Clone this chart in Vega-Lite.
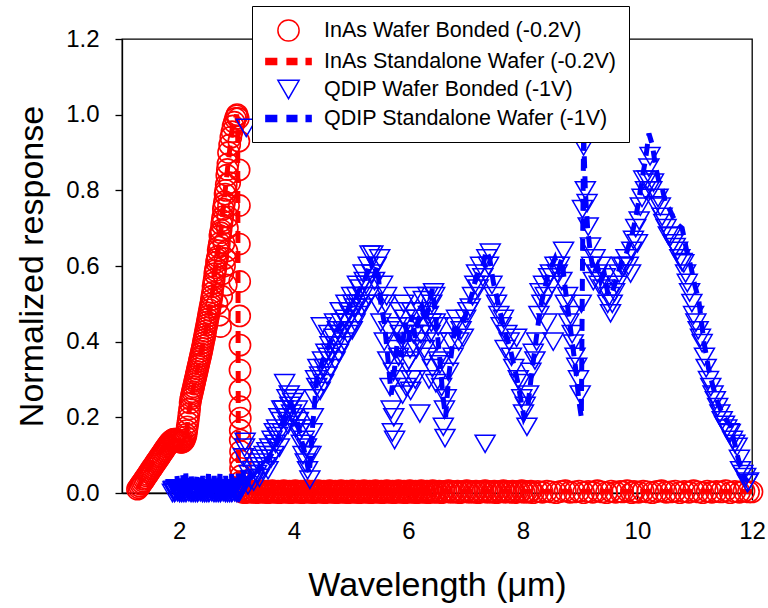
{
  "$schema": "https://vega.github.io/schema/vega-lite/v6.json",
  "width": 630,
  "height": 454,
  "autosize": {"type": "none"},
  "padding": {"left": 122, "top": 39, "right": 16, "bottom": 115},
  "background": "white",
  "config": {
    "font": "Liberation Sans",
    "view": {"stroke": "#000", "strokeWidth": 1.3},
    "axis": {
      "grid": false,
      "domainColor": "#000",
      "domainWidth": 1.3,
      "tickColor": "#000",
      "tickWidth": 1.3,
      "tickSize": 7,
      "labelColor": "#000",
      "titleColor": "#000",
      "labelFontSize": 24,
      "titleFontSize": 34,
      "titleFontWeight": "normal",
      "labelFont": "Liberation Sans",
      "titleFont": "Liberation Sans"
    }
  },
  "datasets": {
    "A": [
      {"s":"A","x":1.27,"y":0.010},{"s":"A","x":1.29,"y":0.014},{"s":"A","x":1.31,"y":0.018},{"s":"A","x":1.33,"y":0.023},{"s":"A","x":1.35,"y":0.027},{"s":"A","x":1.37,"y":0.031},{"s":"A","x":1.39,"y":0.036},{"s":"A","x":1.41,"y":0.040},{"s":"A","x":1.43,"y":0.045},{"s":"A","x":1.45,"y":0.049},{"s":"A","x":1.47,"y":0.054},{"s":"A","x":1.49,"y":0.058},{"s":"A","x":1.51,"y":0.063},{"s":"A","x":1.53,"y":0.067},{"s":"A","x":1.55,"y":0.072},{"s":"A","x":1.57,"y":0.076},{"s":"A","x":1.59,"y":0.081},{"s":"A","x":1.61,"y":0.085},{"s":"A","x":1.63,"y":0.089},{"s":"A","x":1.65,"y":0.094},{"s":"A","x":1.67,"y":0.098},{"s":"A","x":1.69,"y":0.103},{"s":"A","x":1.71,"y":0.107},{"s":"A","x":1.73,"y":0.112},{"s":"A","x":1.75,"y":0.116},{"s":"A","x":1.77,"y":0.121},{"s":"A","x":1.79,"y":0.125},{"s":"A","x":1.81,"y":0.129},{"s":"A","x":1.83,"y":0.133},{"s":"A","x":1.85,"y":0.136},{"s":"A","x":1.87,"y":0.139},{"s":"A","x":1.89,"y":0.141},{"s":"A","x":1.91,"y":0.142},{"s":"A","x":1.93,"y":0.142},{"s":"A","x":1.95,"y":0.141},{"s":"A","x":1.97,"y":0.139},{"s":"A","x":1.99,"y":0.137},{"s":"A","x":2.01,"y":0.135},{"s":"A","x":2.03,"y":0.134},{"s":"A","x":2.05,"y":0.134},{"s":"A","x":2.07,"y":0.136},{"s":"A","x":2.09,"y":0.140},{"s":"A","x":2.11,"y":0.148},
      {"s":"A","x":2.12,"y":0.155},{"s":"A","x":2.13,"y":0.165},{"s":"A","x":2.14,"y":0.175},{"s":"A","x":2.15,"y":0.186},{"s":"A","x":2.16,"y":0.197},{"s":"A","x":2.17,"y":0.209},{"s":"A","x":2.18,"y":0.222},{"s":"A","x":2.19,"y":0.238},{"s":"A","x":2.20,"y":0.248},{"s":"A","x":2.21,"y":0.255},{"s":"A","x":2.22,"y":0.262},{"s":"A","x":2.23,"y":0.268},{"s":"A","x":2.24,"y":0.275},{"s":"A","x":2.25,"y":0.281},{"s":"A","x":2.26,"y":0.288},{"s":"A","x":2.27,"y":0.295},{"s":"A","x":2.28,"y":0.301},{"s":"A","x":2.29,"y":0.308},{"s":"A","x":2.30,"y":0.315},{"s":"A","x":2.31,"y":0.321},{"s":"A","x":2.32,"y":0.328},{"s":"A","x":2.33,"y":0.335},{"s":"A","x":2.34,"y":0.341},{"s":"A","x":2.35,"y":0.348},{"s":"A","x":2.36,"y":0.355},{"s":"A","x":2.37,"y":0.361},{"s":"A","x":2.38,"y":0.368},{"s":"A","x":2.39,"y":0.375},{"s":"A","x":2.40,"y":0.382},{"s":"A","x":2.41,"y":0.389},{"s":"A","x":2.42,"y":0.397},{"s":"A","x":2.43,"y":0.405},{"s":"A","x":2.44,"y":0.412},{"s":"A","x":2.45,"y":0.420},{"s":"A","x":2.46,"y":0.428},{"s":"A","x":2.47,"y":0.436},{"s":"A","x":2.48,"y":0.444},{"s":"A","x":2.49,"y":0.452},{"s":"A","x":2.50,"y":0.460},{"s":"A","x":2.51,"y":0.468},{"s":"A","x":2.52,"y":0.476},{"s":"A","x":2.53,"y":0.484},{"s":"A","x":2.54,"y":0.492},{"s":"A","x":2.55,"y":0.500},{"s":"A","x":2.56,"y":0.510},
      {"s":"A","x":2.57,"y":0.520},{"s":"A","x":2.58,"y":0.530},{"s":"A","x":2.59,"y":0.545},{"s":"A","x":2.60,"y":0.555},{"s":"A","x":2.61,"y":0.565},{"s":"A","x":2.62,"y":0.580},{"s":"A","x":2.63,"y":0.588},{"s":"A","x":2.64,"y":0.595},{"s":"A","x":2.65,"y":0.610},{"s":"A","x":2.66,"y":0.618},{"s":"A","x":2.67,"y":0.625},{"s":"A","x":2.68,"y":0.640},{"s":"A","x":2.69,"y":0.650},{"s":"A","x":2.70,"y":0.660},{"s":"A","x":2.71,"y":0.680},{"s":"A","x":2.72,"y":0.688},{"s":"A","x":2.73,"y":0.695},{"s":"A","x":2.74,"y":0.710},{"s":"A","x":2.75,"y":0.720},{"s":"A","x":2.76,"y":0.730},{"s":"A","x":2.77,"y":0.750},{"s":"A","x":2.78,"y":0.760},{"s":"A","x":2.79,"y":0.770},{"s":"A","x":2.80,"y":0.790},{"s":"A","x":2.81,"y":0.800},{"s":"A","x":2.82,"y":0.815},{"s":"A","x":2.83,"y":0.840},{"s":"A","x":2.84,"y":0.855},{"s":"A","x":2.85,"y":0.870},{"s":"A","x":2.86,"y":0.900},{"s":"A","x":2.88,"y":0.920},{"s":"A","x":2.90,"y":0.940},{"s":"A","x":2.92,"y":0.955},{"s":"A","x":2.94,"y":0.970},{"s":"A","x":2.96,"y":0.980},{"s":"A","x":2.98,"y":0.990},{"s":"A","x":3.00,"y":0.997},{"s":"A","x":3.01,"y":1.0},{"s":"A","x":3.03,"y":0.99},
      {"s":"A","x":2.70,"y":0.47},{"s":"A","x":2.74,"y":0.52},{"s":"A","x":2.76,"y":0.58},{"s":"A","x":2.80,"y":0.62},{"s":"A","x":2.78,"y":0.66},{"s":"A","x":2.84,"y":0.70},{"s":"A","x":2.82,"y":0.55},{"s":"A","x":2.86,"y":0.76},{"s":"A","x":2.88,"y":0.82},{"s":"A","x":2.72,"y":0.44},{"s":"A","x":2.66,"y":0.50},{"s":"A","x":2.79,"y":0.60},{"s":"A","x":2.83,"y":0.64},{"s":"A","x":2.85,"y":0.73},
      {"s":"A","x":3.04,"y":0.93},{"s":"A","x":3.045,"y":0.854},{"s":"A","x":3.05,"y":0.76},{"s":"A","x":3.05,"y":0.658},{"s":"A","x":3.055,"y":0.559},{"s":"A","x":3.055,"y":0.468},{"s":"A","x":3.06,"y":0.391},{"s":"A","x":3.06,"y":0.325},{"s":"A","x":3.06,"y":0.272},{"s":"A","x":3.06,"y":0.228},{"s":"A","x":3.065,"y":0.198},{"s":"A","x":3.065,"y":0.166},{"s":"A","x":3.065,"y":0.14},{"s":"A","x":3.07,"y":0.11},{"s":"A","x":3.07,"y":0.085},{"s":"A","x":3.07,"y":0.065},{"s":"A","x":3.075,"y":0.045},{"s":"A","x":3.075,"y":0.03},{"s":"A","x":3.08,"y":0.018},{"s":"A","x":3.08,"y":0.01},
      {"s":"A","x":3.100,"y":0.002},{"s":"A","x":3.125,"y":0.005},{"s":"A","x":3.150,"y":0.001},{"s":"A","x":3.175,"y":0.004},{"s":"A","x":3.200,"y":0.003},{"s":"A","x":3.225,"y":0.006},{"s":"A","x":3.250,"y":0.002},{"s":"A","x":3.275,"y":0.004},
      {"s":"A","x":3.300,"y":0.002},{"s":"A","x":3.325,"y":0.005},{"s":"A","x":3.350,"y":0.001},{"s":"A","x":3.375,"y":0.004},{"s":"A","x":3.400,"y":0.003},{"s":"A","x":3.425,"y":0.006},{"s":"A","x":3.450,"y":0.002},{"s":"A","x":3.475,"y":0.004},
      {"s":"A","x":3.500,"y":0.002},{"s":"A","x":3.525,"y":0.005},{"s":"A","x":3.550,"y":0.001},{"s":"A","x":3.575,"y":0.004},{"s":"A","x":3.600,"y":0.003},{"s":"A","x":3.625,"y":0.006},{"s":"A","x":3.650,"y":0.002},{"s":"A","x":3.675,"y":0.004},
      {"s":"A","x":3.700,"y":0.002},{"s":"A","x":3.725,"y":0.005},{"s":"A","x":3.750,"y":0.001},{"s":"A","x":3.775,"y":0.004},{"s":"A","x":3.800,"y":0.003},{"s":"A","x":3.825,"y":0.006},{"s":"A","x":3.850,"y":0.002},{"s":"A","x":3.875,"y":0.004},
      {"s":"A","x":3.900,"y":0.002},{"s":"A","x":3.925,"y":0.005},{"s":"A","x":3.950,"y":0.001},{"s":"A","x":3.975,"y":0.004},{"s":"A","x":4.000,"y":0.003},{"s":"A","x":4.025,"y":0.006},{"s":"A","x":4.050,"y":0.002},{"s":"A","x":4.075,"y":0.004},
      {"s":"A","x":4.100,"y":0.002},{"s":"A","x":4.125,"y":0.005},{"s":"A","x":4.150,"y":0.001},{"s":"A","x":4.175,"y":0.004},{"s":"A","x":4.200,"y":0.003},{"s":"A","x":4.225,"y":0.006},{"s":"A","x":4.250,"y":0.002},{"s":"A","x":4.275,"y":0.004},
      {"s":"A","x":4.300,"y":0.002},{"s":"A","x":4.325,"y":0.005},{"s":"A","x":4.350,"y":0.001},{"s":"A","x":4.375,"y":0.004},{"s":"A","x":4.400,"y":0.003},{"s":"A","x":4.425,"y":0.006},{"s":"A","x":4.450,"y":0.002},{"s":"A","x":4.475,"y":0.004},
      {"s":"A","x":4.500,"y":0.002},{"s":"A","x":4.525,"y":0.005},{"s":"A","x":4.550,"y":0.001},{"s":"A","x":4.575,"y":0.004},{"s":"A","x":4.600,"y":0.003},{"s":"A","x":4.625,"y":0.006},{"s":"A","x":4.650,"y":0.002},{"s":"A","x":4.675,"y":0.004},
      {"s":"A","x":4.700,"y":0.002},{"s":"A","x":4.725,"y":0.005},{"s":"A","x":4.750,"y":0.001},{"s":"A","x":4.775,"y":0.004},{"s":"A","x":4.800,"y":0.003},{"s":"A","x":4.825,"y":0.006},{"s":"A","x":4.850,"y":0.002},{"s":"A","x":4.875,"y":0.004},
      {"s":"A","x":4.900,"y":0.002},{"s":"A","x":4.925,"y":0.005},{"s":"A","x":4.950,"y":0.001},{"s":"A","x":4.975,"y":0.004},{"s":"A","x":5.000,"y":0.003},{"s":"A","x":5.025,"y":0.006},{"s":"A","x":5.050,"y":0.002},{"s":"A","x":5.075,"y":0.004},
      {"s":"A","x":5.100,"y":0.002},{"s":"A","x":5.125,"y":0.005},{"s":"A","x":5.150,"y":0.001},{"s":"A","x":5.175,"y":0.004},{"s":"A","x":5.200,"y":0.003},{"s":"A","x":5.225,"y":0.006},{"s":"A","x":5.250,"y":0.002},{"s":"A","x":5.275,"y":0.004},
      {"s":"A","x":5.300,"y":0.002},{"s":"A","x":5.325,"y":0.005},{"s":"A","x":5.350,"y":0.001},{"s":"A","x":5.375,"y":0.004},{"s":"A","x":5.400,"y":0.003},{"s":"A","x":5.425,"y":0.006},{"s":"A","x":5.450,"y":0.002},{"s":"A","x":5.475,"y":0.004},
      {"s":"A","x":5.500,"y":0.002},{"s":"A","x":5.525,"y":0.005},{"s":"A","x":5.550,"y":0.001},{"s":"A","x":5.575,"y":0.004},{"s":"A","x":5.600,"y":0.003},{"s":"A","x":5.625,"y":0.006},{"s":"A","x":5.650,"y":0.002},{"s":"A","x":5.675,"y":0.004},
      {"s":"A","x":5.700,"y":0.002},{"s":"A","x":5.725,"y":0.005},{"s":"A","x":5.750,"y":0.001},{"s":"A","x":5.775,"y":0.004},{"s":"A","x":5.800,"y":0.003},{"s":"A","x":5.825,"y":0.006},{"s":"A","x":5.850,"y":0.002},{"s":"A","x":5.875,"y":0.004},
      {"s":"A","x":5.900,"y":0.002},{"s":"A","x":5.925,"y":0.005},{"s":"A","x":5.950,"y":0.001},{"s":"A","x":5.975,"y":0.004},{"s":"A","x":6.000,"y":0.003},{"s":"A","x":6.025,"y":0.006},{"s":"A","x":6.050,"y":0.002},{"s":"A","x":6.075,"y":0.004},
      {"s":"A","x":6.100,"y":0.002},{"s":"A","x":6.125,"y":0.005},{"s":"A","x":6.150,"y":0.001},{"s":"A","x":6.175,"y":0.004},{"s":"A","x":6.200,"y":0.003},{"s":"A","x":6.225,"y":0.006},{"s":"A","x":6.250,"y":0.002},{"s":"A","x":6.275,"y":0.004},
      {"s":"A","x":6.300,"y":0.002},{"s":"A","x":6.325,"y":0.005},{"s":"A","x":6.350,"y":0.001},{"s":"A","x":6.375,"y":0.004},{"s":"A","x":6.400,"y":0.003},{"s":"A","x":6.425,"y":0.006},{"s":"A","x":6.450,"y":0.002},{"s":"A","x":6.475,"y":0.004},
      {"s":"A","x":6.50,"y":0.002},{"s":"A","x":6.54,"y":0.005},{"s":"A","x":6.58,"y":0.001},{"s":"A","x":6.62,"y":0.004},{"s":"A","x":6.66,"y":0.003},{"s":"A","x":6.70,"y":0.006},{"s":"A","x":6.74,"y":0.002},{"s":"A","x":6.78,"y":0.004},{"s":"A","x":6.82,"y":0.002},{"s":"A","x":6.86,"y":0.005},{"s":"A","x":6.90,"y":0.001},{"s":"A","x":6.94,"y":0.004},{"s":"A","x":6.98,"y":0.003},{"s":"A","x":7.02,"y":0.006},{"s":"A","x":7.06,"y":0.002},{"s":"A","x":7.10,"y":0.004},{"s":"A","x":7.14,"y":0.002},{"s":"A","x":7.18,"y":0.005},{"s":"A","x":7.22,"y":0.001},{"s":"A","x":7.26,"y":0.004},{"s":"A","x":7.30,"y":0.003},{"s":"A","x":7.34,"y":0.006},{"s":"A","x":7.38,"y":0.002},{"s":"A","x":7.42,"y":0.004},{"s":"A","x":7.46,"y":0.002},{"s":"A","x":7.50,"y":0.005},{"s":"A","x":7.54,"y":0.001},{"s":"A","x":7.58,"y":0.004},{"s":"A","x":7.62,"y":0.003},{"s":"A","x":7.66,"y":0.006},{"s":"A","x":7.70,"y":0.002},{"s":"A","x":7.74,"y":0.004},{"s":"A","x":7.78,"y":0.002},{"s":"A","x":7.82,"y":0.005},{"s":"A","x":7.86,"y":0.001},{"s":"A","x":7.90,"y":0.004},{"s":"A","x":7.94,"y":0.003},{"s":"A","x":7.98,"y":0.006},{"s":"A","x":8.02,"y":0.002},{"s":"A","x":8.06,"y":0.004},{"s":"A","x":8.10,"y":0.002},{"s":"A","x":8.14,"y":0.005},{"s":"A","x":8.18,"y":0.001},
      {"s":"A","x":8.26,"y":0.004},{"s":"A","x":8.34,"y":0.002},{"s":"A","x":8.42,"y":0.005},{"s":"A","x":8.50,"y":0.003},{"s":"A","x":8.58,"y":0.001},{"s":"A","x":8.66,"y":0.004},{"s":"A","x":8.74,"y":0.006},{"s":"A","x":8.82,"y":0.002},{"s":"A","x":8.90,"y":0.003},{"s":"A","x":8.98,"y":0.005},{"s":"A","x":9.06,"y":0.001},{"s":"A","x":9.14,"y":0.004},{"s":"A","x":9.22,"y":0.002},{"s":"A","x":9.30,"y":0.006},{"s":"A","x":9.38,"y":0.003},{"s":"A","x":9.46,"y":0.001},{"s":"A","x":9.54,"y":0.005},{"s":"A","x":9.62,"y":0.002},{"s":"A","x":9.70,"y":0.004},{"s":"A","x":9.74,"y":0.003},{"s":"A","x":9.82,"y":0.006},{"s":"A","x":9.90,"y":0.001},{"s":"A","x":9.94,"y":0.004},{"s":"A","x":10.02,"y":0.002},{"s":"A","x":10.10,"y":0.005},{"s":"A","x":10.18,"y":0.003},{"s":"A","x":10.26,"y":0.001},{"s":"A","x":10.34,"y":0.004},{"s":"A","x":10.42,"y":0.006},{"s":"A","x":10.50,"y":0.002},{"s":"A","x":10.58,"y":0.003},{"s":"A","x":10.66,"y":0.005},{"s":"A","x":10.74,"y":0.001},{"s":"A","x":10.82,"y":0.004},{"s":"A","x":10.90,"y":0.002},{"s":"A","x":10.98,"y":0.006},{"s":"A","x":11.06,"y":0.003},{"s":"A","x":11.14,"y":0.001},{"s":"A","x":11.22,"y":0.005},{"s":"A","x":11.30,"y":0.002},{"s":"A","x":11.38,"y":0.004},{"s":"A","x":11.46,"y":0.003},{"s":"A","x":11.54,"y":0.006},{"s":"A","x":11.62,"y":0.001},{"s":"A","x":11.70,"y":0.004},{"s":"A","x":11.78,"y":0.002},{"s":"A","x":11.86,"y":0.005},{"s":"A","x":11.94,"y":0.003},{"s":"A","x":12.00,"y":0.003}
    ],
    "B": [
      {"s":"B","x":1.27,"y":0.01},{"s":"B","x":1.35,"y":0.035},{"s":"B","x":1.45,"y":0.06},{"s":"B","x":1.55,"y":0.085},{"s":"B","x":1.65,"y":0.105},{"s":"B","x":1.75,"y":0.125},{"s":"B","x":1.85,"y":0.138},{"s":"B","x":1.95,"y":0.14},{"s":"B","x":2.05,"y":0.135},{"s":"B","x":2.12,"y":0.155},{"s":"B","x":2.18,"y":0.225},{"s":"B","x":2.25,"y":0.28},{"s":"B","x":2.35,"y":0.35},{"s":"B","x":2.45,"y":0.42},{"s":"B","x":2.56,"y":0.51},{"s":"B","x":2.65,"y":0.61},{"s":"B","x":2.74,"y":0.71},{"s":"B","x":2.83,"y":0.84},{"s":"B","x":2.92,"y":0.96},{"s":"B","x":3.0,"y":1.0},{"s":"B","x":3.02,"y":0.98},{"s":"B","x":3.025,"y":0.6},{"s":"B","x":3.03,"y":0.2},{"s":"B","x":3.035,"y":0.01},{"s":"B","x":3.2,"y":0.005},{"s":"B","x":4.0,"y":0.004},{"s":"B","x":6.0,"y":0.005},{"s":"B","x":8.0,"y":0.004},{"s":"B","x":10.0,"y":0.004},{"s":"B","x":12.0,"y":0.004}
    ],
    "C": [
      {"s":"C","x":1.880,"y":0.0},{"s":"C","x":1.905,"y":0.008},{"s":"C","x":1.930,"y":0.003},{"s":"C","x":1.955,"y":0.012},{"s":"C","x":1.980,"y":0.005},{"s":"C","x":2.005,"y":0.0},{"s":"C","x":2.030,"y":0.01},{"s":"C","x":2.055,"y":0.004},
      {"s":"C","x":2.080,"y":0.0},{"s":"C","x":2.105,"y":0.008},{"s":"C","x":2.130,"y":0.003},{"s":"C","x":2.155,"y":0.012},{"s":"C","x":2.180,"y":0.005},{"s":"C","x":2.205,"y":0.0},{"s":"C","x":2.230,"y":0.01},{"s":"C","x":2.255,"y":0.004},
      {"s":"C","x":2.280,"y":0.0},{"s":"C","x":2.305,"y":0.008},{"s":"C","x":2.330,"y":0.003},{"s":"C","x":2.355,"y":0.012},{"s":"C","x":2.380,"y":0.005},{"s":"C","x":2.405,"y":0.0},{"s":"C","x":2.430,"y":0.01},{"s":"C","x":2.455,"y":0.004},
      {"s":"C","x":2.480,"y":0.0},{"s":"C","x":2.505,"y":0.008},{"s":"C","x":2.530,"y":0.003},{"s":"C","x":2.555,"y":0.012},{"s":"C","x":2.580,"y":0.005},{"s":"C","x":2.605,"y":0.0},{"s":"C","x":2.630,"y":0.01},{"s":"C","x":2.655,"y":0.004},
      {"s":"C","x":2.680,"y":0.0},{"s":"C","x":2.705,"y":0.008},{"s":"C","x":2.730,"y":0.003},{"s":"C","x":2.755,"y":0.012},{"s":"C","x":2.780,"y":0.005},{"s":"C","x":2.805,"y":0.0},{"s":"C","x":2.830,"y":0.01},{"s":"C","x":2.855,"y":0.004},
      {"s":"C","x":2.880,"y":0.0},{"s":"C","x":2.905,"y":0.008},{"s":"C","x":2.930,"y":0.003},{"s":"C","x":2.955,"y":0.012},{"s":"C","x":2.980,"y":0.005},{"s":"C","x":3.005,"y":0.0},{"s":"C","x":3.030,"y":0.01},{"s":"C","x":3.055,"y":0.004},{"s":"C","x":3.08,"y":0.015},
      {"s":"C","x":1.892,"y":0.006},{"s":"C","x":1.917,"y":0.0},{"s":"C","x":1.942,"y":0.011},{"s":"C","x":1.967,"y":0.002},{"s":"C","x":1.992,"y":0.009},{"s":"C","x":2.017,"y":0.004},{"s":"C","x":2.042,"y":0.0},{"s":"C","x":2.067,"y":0.012},
      {"s":"C","x":2.092,"y":0.006},{"s":"C","x":2.117,"y":0.0},{"s":"C","x":2.142,"y":0.011},{"s":"C","x":2.167,"y":0.002},{"s":"C","x":2.192,"y":0.009},{"s":"C","x":2.217,"y":0.004},{"s":"C","x":2.242,"y":0.0},{"s":"C","x":2.267,"y":0.012},
      {"s":"C","x":2.292,"y":0.006},{"s":"C","x":2.317,"y":0.0},{"s":"C","x":2.342,"y":0.011},{"s":"C","x":2.367,"y":0.002},{"s":"C","x":2.392,"y":0.009},{"s":"C","x":2.417,"y":0.004},{"s":"C","x":2.442,"y":0.0},{"s":"C","x":2.467,"y":0.012},
      {"s":"C","x":2.492,"y":0.006},{"s":"C","x":2.517,"y":0.0},{"s":"C","x":2.542,"y":0.011},{"s":"C","x":2.567,"y":0.002},{"s":"C","x":2.592,"y":0.009},{"s":"C","x":2.617,"y":0.004},{"s":"C","x":2.642,"y":0.0},{"s":"C","x":2.667,"y":0.012},
      {"s":"C","x":2.692,"y":0.006},{"s":"C","x":2.717,"y":0.0},{"s":"C","x":2.742,"y":0.011},{"s":"C","x":2.767,"y":0.002},{"s":"C","x":2.792,"y":0.009},{"s":"C","x":2.817,"y":0.004},{"s":"C","x":2.842,"y":0.0},{"s":"C","x":2.867,"y":0.012},
      {"s":"C","x":2.892,"y":0.006},{"s":"C","x":2.917,"y":0.0},{"s":"C","x":2.942,"y":0.011},{"s":"C","x":2.967,"y":0.002},{"s":"C","x":2.992,"y":0.009},{"s":"C","x":3.017,"y":0.004},{"s":"C","x":3.042,"y":0.0},{"s":"C","x":3.067,"y":0.012},
      {"s":"C","x":3.12,"y":0.094},{"s":"C","x":3.14,"y":0.12},{"s":"C","x":3.15,"y":0.135},{"s":"C","x":3.17,"y":0.965},
      {"s":"C","x":3.2,"y":0.02},{"s":"C","x":3.22,"y":0.05},{"s":"C","x":3.25,"y":0.035},{"s":"C","x":3.28,"y":0.06},{"s":"C","x":3.3,"y":0.03},{"s":"C","x":3.33,"y":0.07},{"s":"C","x":3.35,"y":0.05},{"s":"C","x":3.38,"y":0.08},{"s":"C","x":3.4,"y":0.04},{"s":"C","x":3.43,"y":0.09},{"s":"C","x":3.45,"y":0.06},{"s":"C","x":3.48,"y":0.1},{"s":"C","x":3.5,"y":0.07},{"s":"C","x":3.53,"y":0.11},{"s":"C","x":3.55,"y":0.06},{"s":"C","x":3.58,"y":0.12},{"s":"C","x":3.6,"y":0.09},{"s":"C","x":3.62,"y":0.14},{"s":"C","x":3.65,"y":0.1},{"s":"C","x":3.66,"y":0.16},{"s":"C","x":3.68,"y":0.13},{"s":"C","x":3.7,"y":0.17},{"s":"C","x":3.72,"y":0.15},{"s":"C","x":3.74,"y":0.2},{"s":"C","x":3.75,"y":0.12},{"s":"C","x":3.78,"y":0.19},{"s":"C","x":3.79,"y":0.22},{"s":"C","x":3.8,"y":0.16},{"s":"C","x":3.82,"y":0.22},{"s":"C","x":3.84,"y":0.29},{"s":"C","x":3.86,"y":0.2},{"s":"C","x":3.88,"y":0.25},{"s":"C","x":3.9,"y":0.18},{"s":"C","x":3.92,"y":0.26},{"s":"C","x":3.93,"y":0.23},{"s":"C","x":3.96,"y":0.21},{"s":"C","x":3.98,"y":0.24},{"s":"C","x":4.0,"y":0.2},{"s":"C","x":4.02,"y":0.25},{"s":"C","x":4.03,"y":0.17},{"s":"C","x":4.06,"y":0.22},{"s":"C","x":4.08,"y":0.19},{"s":"C","x":4.1,"y":0.16},{"s":"C","x":4.13,"y":0.13},{"s":"C","x":4.14,"y":0.17},{"s":"C","x":4.16,"y":0.1},{"s":"C","x":4.18,"y":0.14},{"s":"C","x":4.2,"y":0.08},{"s":"C","x":4.22,"y":0.12},{"s":"C","x":4.24,"y":0.06},{"s":"C","x":4.26,"y":0.1},{"s":"C","x":4.28,"y":0.035},{"s":"C","x":4.3,"y":0.1},{"s":"C","x":4.32,"y":0.16},{"s":"C","x":4.34,"y":0.2},{"s":"C","x":4.36,"y":0.25},{"s":"C","x":4.38,"y":0.3},{"s":"C","x":4.4,"y":0.28},{"s":"C","x":4.42,"y":0.33},{"s":"C","x":4.45,"y":0.31},{"s":"C","x":4.46,"y":0.27},{"s":"C","x":4.48,"y":0.44},{"s":"C","x":4.5,"y":0.35},{"s":"C","x":4.52,"y":0.29},{"s":"C","x":4.53,"y":0.33},{"s":"C","x":4.56,"y":0.37},{"s":"C","x":4.58,"y":0.31},{"s":"C","x":4.6,"y":0.36},{"s":"C","x":4.61,"y":0.42},{"s":"C","x":4.63,"y":0.39},{"s":"C","x":4.64,"y":0.33},{"s":"C","x":4.66,"y":0.37},{"s":"C","x":4.7,"y":0.41},{"s":"C","x":4.71,"y":0.45},{"s":"C","x":4.72,"y":0.35},{"s":"C","x":4.73,"y":0.39},{"s":"C","x":4.76,"y":0.43},{"s":"C","x":4.78,"y":0.37},{"s":"C","x":4.8,"y":0.42},{"s":"C","x":4.81,"y":0.48},{"s":"C","x":4.83,"y":0.45},{"s":"C","x":4.84,"y":0.39},{"s":"C","x":4.86,"y":0.43},{"s":"C","x":4.88,"y":0.4},{"s":"C","x":4.9,"y":0.46},{"s":"C","x":4.91,"y":0.5},{"s":"C","x":4.93,"y":0.45},{"s":"C","x":4.94,"y":0.42},{"s":"C","x":4.96,"y":0.48},{"s":"C","x":5.0,"y":0.47},{"s":"C","x":5.01,"y":0.52},{"s":"C","x":5.02,"y":0.43},{"s":"C","x":5.03,"y":0.5},{"s":"C","x":5.06,"y":0.49},{"s":"C","x":5.07,"y":0.45},{"s":"C","x":5.1,"y":0.52},{"s":"C","x":5.11,"y":0.55},{"s":"C","x":5.12,"y":0.47},{"s":"C","x":5.13,"y":0.5},{"s":"C","x":5.16,"y":0.54},{"s":"C","x":5.18,"y":0.49},{"s":"C","x":5.2,"y":0.52},{"s":"C","x":5.21,"y":0.58},{"s":"C","x":5.23,"y":0.56},{"s":"C","x":5.24,"y":0.5},{"s":"C","x":5.26,"y":0.55},{"s":"C","x":5.3,"y":0.6},{"s":"C","x":5.31,"y":0.52},{"s":"C","x":5.33,"y":0.63},{"s":"C","x":5.36,"y":0.58},{"s":"C","x":5.38,"y":0.63},{"s":"C","x":5.41,"y":0.56},{"s":"C","x":5.44,"y":0.6},{"s":"C","x":5.47,"y":0.5},{"s":"C","x":5.5,"y":0.62},{"s":"C","x":5.52,"y":0.45},{"s":"C","x":5.55,"y":0.55},{"s":"C","x":5.58,"y":0.4},{"s":"C","x":5.6,"y":0.5},{"s":"C","x":5.62,"y":0.52},{"s":"C","x":5.64,"y":0.35},{"s":"C","x":5.66,"y":0.43},{"s":"C","x":5.68,"y":0.28},{"s":"C","x":5.7,"y":0.22},{"s":"C","x":5.72,"y":0.16},{"s":"C","x":5.74,"y":0.32},{"s":"C","x":5.745,"y":0.2},{"s":"C","x":5.76,"y":0.14},{"s":"C","x":5.78,"y":0.38},{"s":"C","x":5.8,"y":0.44},{"s":"C","x":5.83,"y":0.36},{"s":"C","x":5.85,"y":0.48},{"s":"C","x":5.86,"y":0.42},{"s":"C","x":5.88,"y":0.3},{"s":"C","x":5.9,"y":0.26},{"s":"C","x":5.91,"y":0.4},{"s":"C","x":5.92,"y":0.5},{"s":"C","x":5.94,"y":0.46},{"s":"C","x":5.96,"y":0.28},{"s":"C","x":5.97,"y":0.34},{"s":"C","x":6.0,"y":0.44},{"s":"C","x":6.01,"y":0.35},{"s":"C","x":6.03,"y":0.38},{"s":"C","x":6.04,"y":0.27},{"s":"C","x":6.05,"y":0.3},{"s":"C","x":6.06,"y":0.48},{"s":"C","x":6.09,"y":0.42},{"s":"C","x":6.1,"y":0.52},{"s":"C","x":6.12,"y":0.3},{"s":"C","x":6.14,"y":0.38},{"s":"C","x":6.15,"y":0.46},{"s":"C","x":6.18,"y":0.4},{"s":"C","x":6.2,"y":0.21},{"s":"C","x":6.22,"y":0.42},{"s":"C","x":6.23,"y":0.48},{"s":"C","x":6.26,"y":0.51},{"s":"C","x":6.28,"y":0.38},{"s":"C","x":6.29,"y":0.44},{"s":"C","x":6.32,"y":0.36},{"s":"C","x":6.34,"y":0.52},{"s":"C","x":6.35,"y":0.47},{"s":"C","x":6.36,"y":0.3},{"s":"C","x":6.38,"y":0.42},{"s":"C","x":6.4,"y":0.45},{"s":"C","x":6.41,"y":0.5},{"s":"C","x":6.42,"y":0.33},{"s":"C","x":6.44,"y":0.53},{"s":"C","x":6.46,"y":0.52},{"s":"C","x":6.47,"y":0.45},{"s":"C","x":6.48,"y":0.29},{"s":"C","x":6.5,"y":0.4},{"s":"C","x":6.52,"y":0.44},{"s":"C","x":6.53,"y":0.35},{"s":"C","x":6.55,"y":0.34},{"s":"C","x":6.58,"y":0.28},{"s":"C","x":6.61,"y":0.175},{"s":"C","x":6.63,"y":0.22},{"s":"C","x":6.64,"y":0.145},{"s":"C","x":6.66,"y":0.25},{"s":"C","x":6.7,"y":0.32},{"s":"C","x":6.74,"y":0.4},{"s":"C","x":6.78,"y":0.36},{"s":"C","x":6.81,"y":0.44},{"s":"C","x":6.84,"y":0.46},{"s":"C","x":6.88,"y":0.4},{"s":"C","x":6.92,"y":0.43},{"s":"C","x":6.96,"y":0.41},{"s":"C","x":7.0,"y":0.46},{"s":"C","x":7.04,"y":0.48},{"s":"C","x":7.08,"y":0.49},{"s":"C","x":7.12,"y":0.52},{"s":"C","x":7.16,"y":0.55},{"s":"C","x":7.19,"y":0.58},{"s":"C","x":7.22,"y":0.54},{"s":"C","x":7.26,"y":0.6},{"s":"C","x":7.3,"y":0.57},{"s":"C","x":7.34,"y":0.13},{"s":"C","x":7.37,"y":0.62},{"s":"C","x":7.4,"y":0.6},{"s":"C","x":7.43,"y":0.635},{"s":"C","x":7.46,"y":0.55},{"s":"C","x":7.5,"y":0.52},{"s":"C","x":7.54,"y":0.5},{"s":"C","x":7.58,"y":0.47},{"s":"C","x":7.62,"y":0.44},{"s":"C","x":7.66,"y":0.46},{"s":"C","x":7.69,"y":0.38},{"s":"C","x":7.72,"y":0.42},{"s":"C","x":7.76,"y":0.4},{"s":"C","x":7.8,"y":0.36},{"s":"C","x":7.84,"y":0.33},{"s":"C","x":7.89,"y":0.41},{"s":"C","x":7.92,"y":0.3},{"s":"C","x":7.95,"y":0.29},{"s":"C","x":7.98,"y":0.25},{"s":"C","x":8.01,"y":0.21},{"s":"C","x":8.04,"y":0.23},{"s":"C","x":8.07,"y":0.175},{"s":"C","x":8.1,"y":0.26},{"s":"C","x":8.14,"y":0.32},{"s":"C","x":8.18,"y":0.37},{"s":"C","x":8.21,"y":0.35},{"s":"C","x":8.24,"y":0.4},{"s":"C","x":8.28,"y":0.47},{"s":"C","x":8.3,"y":0.53},{"s":"C","x":8.33,"y":0.5},{"s":"C","x":8.36,"y":0.55},{"s":"C","x":8.39,"y":0.52},{"s":"C","x":8.42,"y":0.45},{"s":"C","x":8.45,"y":0.57},{"s":"C","x":8.48,"y":0.58},{"s":"C","x":8.51,"y":0.55},{"s":"C","x":8.53,"y":0.4},{"s":"C","x":8.56,"y":0.6},{"s":"C","x":8.6,"y":0.58},{"s":"C","x":8.64,"y":0.6},{"s":"C","x":8.68,"y":0.56},{"s":"C","x":8.71,"y":0.64},{"s":"C","x":8.74,"y":0.5},{"s":"C","x":8.78,"y":0.52},{"s":"C","x":8.8,"y":0.45},{"s":"C","x":8.83,"y":0.47},{"s":"C","x":8.86,"y":0.42},{"s":"C","x":8.88,"y":0.395},{"s":"C","x":8.91,"y":0.36},{"s":"C","x":8.94,"y":0.333},{"s":"C","x":8.97,"y":0.3},{"s":"C","x":9.0,"y":0.26},{"s":"C","x":9.02,"y":0.5},{"s":"C","x":9.04,"y":0.75},{"s":"C","x":9.06,"y":0.916},{"s":"C","x":9.09,"y":0.8},{"s":"C","x":9.12,"y":0.766},{"s":"C","x":9.14,"y":0.704},{"s":"C","x":9.18,"y":0.651},{"s":"C","x":9.2,"y":0.6},{"s":"C","x":9.23,"y":0.56},{"s":"C","x":9.26,"y":0.62},{"s":"C","x":9.3,"y":0.58},{"s":"C","x":9.33,"y":0.55},{"s":"C","x":9.36,"y":0.6},{"s":"C","x":9.4,"y":0.54},{"s":"C","x":9.44,"y":0.57},{"s":"C","x":9.48,"y":0.5},{"s":"C","x":9.51,"y":0.52},{"s":"C","x":9.53,"y":0.475},{"s":"C","x":9.56,"y":0.5},{"s":"C","x":9.6,"y":0.53},{"s":"C","x":9.64,"y":0.55},{"s":"C","x":9.68,"y":0.58},{"s":"C","x":9.72,"y":0.6},{"s":"C","x":9.76,"y":0.598},{"s":"C","x":9.8,"y":0.62},{"s":"C","x":9.84,"y":0.6},{"s":"C","x":9.88,"y":0.58},{"s":"C","x":9.9,"y":0.64},{"s":"C","x":9.93,"y":0.669},{"s":"C","x":9.97,"y":0.7},{"s":"C","x":10.0,"y":0.66},{"s":"C","x":10.03,"y":0.72},{"s":"C","x":10.05,"y":0.757},{"s":"C","x":10.08,"y":0.78},{"s":"C","x":10.11,"y":0.828},{"s":"C","x":10.14,"y":0.8},{"s":"C","x":10.17,"y":0.828},{"s":"C","x":10.2,"y":0.86},{"s":"C","x":10.22,"y":0.89},{"s":"C","x":10.25,"y":0.8},{"s":"C","x":10.28,"y":0.82},{"s":"C","x":10.32,"y":0.76},{"s":"C","x":10.36,"y":0.78},{"s":"C","x":10.4,"y":0.757},{"s":"C","x":10.43,"y":0.73},{"s":"C","x":10.46,"y":0.713},{"s":"C","x":10.5,"y":0.7},{"s":"C","x":10.54,"y":0.68},{"s":"C","x":10.58,"y":0.678},{"s":"C","x":10.62,"y":0.66},{"s":"C","x":10.66,"y":0.65},{"s":"C","x":10.7,"y":0.64},{"s":"C","x":10.74,"y":0.62},{"s":"C","x":10.78,"y":0.61},{"s":"C","x":10.81,"y":0.607},{"s":"C","x":10.84,"y":0.58},{"s":"C","x":10.87,"y":0.555},{"s":"C","x":10.91,"y":0.53},{"s":"C","x":10.95,"y":0.502},{"s":"C","x":10.98,"y":0.47},{"s":"C","x":11.02,"y":0.45},{"s":"C","x":11.06,"y":0.43},{"s":"C","x":11.1,"y":0.41},{"s":"C","x":11.13,"y":0.396},{"s":"C","x":11.17,"y":0.36},{"s":"C","x":11.2,"y":0.33},{"s":"C","x":11.24,"y":0.298},{"s":"C","x":11.28,"y":0.28},{"s":"C","x":11.32,"y":0.26},{"s":"C","x":11.36,"y":0.245},{"s":"C","x":11.4,"y":0.227},{"s":"C","x":11.44,"y":0.21},{"s":"C","x":11.48,"y":0.192},{"s":"C","x":11.52,"y":0.18},{"s":"C","x":11.56,"y":0.17},{"s":"C","x":11.6,"y":0.16},{"s":"C","x":11.62,"y":0.158},{"s":"C","x":11.66,"y":0.14},{"s":"C","x":11.7,"y":0.13},{"s":"C","x":11.74,"y":0.122},{"s":"C","x":11.78,"y":0.09},{"s":"C","x":11.8,"y":0.06},{"s":"C","x":11.84,"y":0.05},{"s":"C","x":11.89,"y":0.042},{"s":"C","x":11.92,"y":0.026},{"s":"C","x":11.94,"y":0.03}
    ],
    "D": [
      {"s":"D","x":1.88,"y":0.0},{"s":"D","x":1.91,"y":0.035},{"s":"D","x":1.93,"y":0.005},{"s":"D","x":1.96,"y":0.045},{"s":"D","x":1.98,"y":0.0},{"s":"D","x":2.01,"y":0.04},{"s":"D","x":2.03,"y":0.01},{"s":"D","x":2.06,"y":0.05},{"s":"D","x":2.08,"y":0.005},{"s":"D","x":2.11,"y":0.06},{"s":"D","x":2.13,"y":0.01},{"s":"D","x":2.16,"y":0.04},{"s":"D","x":2.18,"y":0.0},{"s":"D","x":2.21,"y":0.045},{"s":"D","x":2.23,"y":0.01},{"s":"D","x":2.26,"y":0.035},{"s":"D","x":2.28,"y":0.0},{"s":"D","x":2.31,"y":0.05},{"s":"D","x":2.33,"y":0.005},{"s":"D","x":2.36,"y":0.04},{"s":"D","x":2.38,"y":0.01},{"s":"D","x":2.41,"y":0.045},{"s":"D","x":2.43,"y":0.0},{"s":"D","x":2.46,"y":0.035},{"s":"D","x":2.48,"y":0.01},{"s":"D","x":2.51,"y":0.05},{"s":"D","x":2.53,"y":0.005},{"s":"D","x":2.56,"y":0.04},{"s":"D","x":2.58,"y":0.0},{"s":"D","x":2.61,"y":0.045},{"s":"D","x":2.63,"y":0.01},{"s":"D","x":2.66,"y":0.04},{"s":"D","x":2.68,"y":0.0},{"s":"D","x":2.71,"y":0.05},{"s":"D","x":2.73,"y":0.005},{"s":"D","x":2.76,"y":0.04},{"s":"D","x":2.78,"y":0.01},{"s":"D","x":2.81,"y":0.045},{"s":"D","x":2.83,"y":0.0},{"s":"D","x":2.86,"y":0.04},{"s":"D","x":2.88,"y":0.01},{"s":"D","x":2.91,"y":0.05},{"s":"D","x":2.93,"y":0.005},{"s":"D","x":2.96,"y":0.045},{"s":"D","x":2.98,"y":0.01},{"s":"D","x":3.03,"y":0.05},{"s":"D","x":3.08,"y":0.02},{"s":"D","x":3.13,"y":0.06},{"s":"D","x":3.18,"y":0.03},{"s":"D","x":3.25,"y":0.05},{"s":"D","x":3.32,"y":0.04},{"s":"D","x":3.4,"y":0.07},{"s":"D","x":3.48,"y":0.06},{"s":"D","x":3.56,"y":0.09},{"s":"D","x":3.64,"y":0.11},{"s":"D","x":3.72,"y":0.14},{"s":"D","x":3.8,"y":0.18},{"s":"D","x":3.88,"y":0.21},{"s":"D","x":3.96,"y":0.23},{"s":"D","x":4.04,"y":0.2},{"s":"D","x":4.12,"y":0.15},{"s":"D","x":4.2,"y":0.1},{"s":"D","x":4.27,"y":0.05},{"s":"D","x":4.33,"y":0.18},{"s":"D","x":4.4,"y":0.3},{"s":"D","x":4.48,"y":0.34},{"s":"D","x":4.56,"y":0.37},{"s":"D","x":4.64,"y":0.4},{"s":"D","x":4.72,"y":0.42},{"s":"D","x":4.8,"y":0.44},{"s":"D","x":4.88,"y":0.46},{"s":"D","x":4.96,"y":0.49},{"s":"D","x":5.04,"y":0.5},{"s":"D","x":5.12,"y":0.53},{"s":"D","x":5.2,"y":0.55},{"s":"D","x":5.28,"y":0.58},{"s":"D","x":5.34,"y":0.62},{"s":"D","x":5.4,"y":0.57},{"s":"D","x":5.46,"y":0.6},{"s":"D","x":5.52,"y":0.5},{"s":"D","x":5.58,"y":0.45},{"s":"D","x":5.64,"y":0.36},{"s":"D","x":5.7,"y":0.26},{"s":"D","x":5.76,"y":0.33},{"s":"D","x":5.82,"y":0.42},{"s":"D","x":5.88,"y":0.36},{"s":"D","x":5.94,"y":0.45},{"s":"D","x":6.0,"y":0.4},{"s":"D","x":6.06,"y":0.47},{"s":"D","x":6.12,"y":0.41},{"s":"D","x":6.18,"y":0.46},{"s":"D","x":6.24,"y":0.49},{"s":"D","x":6.3,"y":0.45},{"s":"D","x":6.36,"y":0.5},{"s":"D","x":6.42,"y":0.54},{"s":"D","x":6.48,"y":0.46},{"s":"D","x":6.54,"y":0.37},{"s":"D","x":6.6,"y":0.26},{"s":"D","x":6.65,"y":0.2},{"s":"D","x":6.7,"y":0.3},{"s":"D","x":6.76,"y":0.38},{"s":"D","x":6.82,"y":0.45},{"s":"D","x":6.88,"y":0.42},{"s":"D","x":6.94,"y":0.44},{"s":"D","x":7.0,"y":0.47},{"s":"D","x":7.06,"y":0.5},{"s":"D","x":7.12,"y":0.53},{"s":"D","x":7.18,"y":0.57},{"s":"D","x":7.24,"y":0.59},{"s":"D","x":7.3,"y":0.6},{"s":"D","x":7.36,"y":0.64},{"s":"D","x":7.42,"y":0.62},{"s":"D","x":7.48,"y":0.56},{"s":"D","x":7.54,"y":0.52},{"s":"D","x":7.6,"y":0.48},{"s":"D","x":7.66,"y":0.44},{"s":"D","x":7.72,"y":0.41},{"s":"D","x":7.78,"y":0.38},{"s":"D","x":7.84,"y":0.34},{"s":"D","x":7.9,"y":0.3},{"s":"D","x":7.96,"y":0.25},{"s":"D","x":8.02,"y":0.2},{"s":"D","x":8.08,"y":0.22},{"s":"D","x":8.14,"y":0.3},{"s":"D","x":8.2,"y":0.37},{"s":"D","x":8.26,"y":0.44},{"s":"D","x":8.32,"y":0.5},{"s":"D","x":8.38,"y":0.54},{"s":"D","x":8.44,"y":0.58},{"s":"D","x":8.5,"y":0.6},{"s":"D","x":8.56,"y":0.62},{"s":"D","x":8.62,"y":0.59},{"s":"D","x":8.68,"y":0.62},{"s":"D","x":8.74,"y":0.54},{"s":"D","x":8.8,"y":0.47},{"s":"D","x":8.86,"y":0.4},{"s":"D","x":8.92,"y":0.33},{"s":"D","x":8.98,"y":0.24},{"s":"D","x":9.02,"y":0.2},{"s":"D","x":9.04,"y":0.6},{"s":"D","x":9.06,"y":0.95},{"s":"D","x":9.09,"y":0.8},{"s":"D","x":9.13,"y":0.7},{"s":"D","x":9.18,"y":0.63},{"s":"D","x":9.24,"y":0.58},{"s":"D","x":9.3,"y":0.6},{"s":"D","x":9.36,"y":0.56},{"s":"D","x":9.42,"y":0.58},{"s":"D","x":9.48,"y":0.53},{"s":"D","x":9.54,"y":0.52},{"s":"D","x":9.6,"y":0.55},{"s":"D","x":9.66,"y":0.58},{"s":"D","x":9.72,"y":0.61},{"s":"D","x":9.78,"y":0.62},{"s":"D","x":9.84,"y":0.65},{"s":"D","x":9.9,"y":0.68},{"s":"D","x":9.96,"y":0.72},{"s":"D","x":10.02,"y":0.77},{"s":"D","x":10.08,"y":0.83},{"s":"D","x":10.14,"y":0.88},{"s":"D","x":10.2,"y":0.95},{"s":"D","x":10.26,"y":0.92},{"s":"D","x":10.32,"y":0.86},{"s":"D","x":10.38,"y":0.82},{"s":"D","x":10.44,"y":0.8},{"s":"D","x":10.5,"y":0.76},{"s":"D","x":10.56,"y":0.75},{"s":"D","x":10.62,"y":0.73},{"s":"D","x":10.7,"y":0.71},{"s":"D","x":10.78,"y":0.7},{"s":"D","x":10.86,"y":0.64},{"s":"D","x":10.93,"y":0.6},{"s":"D","x":11.0,"y":0.55},{"s":"D","x":11.07,"y":0.51},{"s":"D","x":11.16,"y":0.4},{"s":"D","x":11.24,"y":0.33},{"s":"D","x":11.32,"y":0.28},{"s":"D","x":11.4,"y":0.24},{"s":"D","x":11.48,"y":0.21},{"s":"D","x":11.56,"y":0.19},{"s":"D","x":11.62,"y":0.18},{"s":"D","x":11.7,"y":0.13},{"s":"D","x":11.76,"y":0.09},{"s":"D","x":11.82,"y":0.06},{"s":"D","x":11.87,"y":0.04},{"s":"D","x":11.93,"y":0.03}
    ]
  },
  "encoding": {
    "x": {
      "field": "x", "type": "quantitative",
      "scale": {"domain": [1, 12], "nice": false, "zero": false},
      "axis": {"values": [2, 4, 6, 8, 10, 12], "format": "d", "title": "Wavelength (μm)", "labelPadding": 19, "titlePadding": 25, "labelFlush": false}
    },
    "y": {
      "field": "y", "type": "quantitative",
      "scale": {"domain": [0, 1.2], "nice": false},
      "axis": {"values": [0, 0.2, 0.4, 0.6, 0.8, 1.0, 1.2], "format": ".1f", "title": "Normalized response", "labelPadding": 16, "titlePadding": 16}
    }
  },
  "layer": [
    {
      "data": {"name": "A"},
      "mark": {"type": "point", "filled": false, "strokeWidth": 1.6, "size": 450, "opacity": 1},
      "encoding": {
        "color": {"field": "s", "type": "nominal",
          "scale": {"domain": ["A", "B", "C", "D"], "range": ["#FF0000", "#FF0000", "#0000FF", "#0000FF"]},
          "legend": {
            "orient": "none", "legendX": 130, "legendY": -33, "title": null,
            "symbolSize": 450, "symbolStrokeWidth": 1.5, "symbolOffset": 12,
            "labelFontSize": 21.5, "labelColor": "#000", "labelFont": "Liberation Sans", "labelOffset": 24, "labelLimit": 400,
            "padding": 13, "rowPadding": 5, "strokeColor": "#000", "fillColor": "#fff",
            "labelExpr": "datum.value === 'A' ? 'InAs Wafer Bonded (-0.2V)' : datum.value === 'B' ? 'InAs Standalone Wafer (-0.2V)' : datum.value === 'C' ? 'QDIP Wafer Bonded (-1V)' : 'QDIP Standalone Wafer (-1V)'"
          }
        },
        "shape": {"field": "s", "type": "nominal",
          "scale": {"domain": ["A", "B", "C", "D"], "range": ["circle", "M-2.2,-0.28H-1.05M-0.2,-0.28H0.85M1.6,-0.28H2.2M-2.2,-0.14H-1.05M-0.2,-0.14H0.85M1.6,-0.14H2.2M-2.2,0H-1.05M-0.2,0H0.85M1.6,0H2.2M-2.2,0.14H-1.05M-0.2,0.14H0.85M1.6,0.14H2.2M-2.2,0.28H-1.05M-0.2,0.28H0.85M1.6,0.28H2.2", "triangle-down", "M-2.2,-0.28H-1.05M-0.2,-0.28H0.85M1.6,-0.28H2.2M-2.2,-0.14H-1.05M-0.2,-0.14H0.85M1.6,-0.14H2.2M-2.2,0H-1.05M-0.2,0H0.85M1.6,0H2.2M-2.2,0.14H-1.05M-0.2,0.14H0.85M1.6,0.14H2.2M-2.2,0.28H-1.05M-0.2,0.28H0.85M1.6,0.28H2.2"]},
          "legend": {
            "orient": "none", "legendX": 130, "legendY": -33, "title": null,
            "symbolSize": 450, "symbolStrokeWidth": 1.5, "symbolOffset": 12,
            "labelFontSize": 21.5, "labelColor": "#000", "labelFont": "Liberation Sans", "labelOffset": 24, "labelLimit": 400,
            "padding": 13, "rowPadding": 5, "strokeColor": "#000", "fillColor": "#fff",
            "labelExpr": "datum.value === 'A' ? 'InAs Wafer Bonded (-0.2V)' : datum.value === 'B' ? 'InAs Standalone Wafer (-0.2V)' : datum.value === 'C' ? 'QDIP Wafer Bonded (-1V)' : 'QDIP Standalone Wafer (-1V)'"
          }
        }
      }
    },
    {
      "data": {"name": "B"},
      "mark": {"type": "line", "color": "#FF0000", "strokeWidth": 5, "strokeDash": [12, 8]},
      "encoding": {}
    },
    {
      "data": {"name": "C"},
      "mark": {"type": "point", "filled": false, "strokeWidth": 1.5, "size": 400, "opacity": 1},
      "encoding": {
        "color": {"field": "s", "type": "nominal"},
        "shape": {"field": "s", "type": "nominal"}
      }
    },
    {
      "data": {"name": "D"},
      "mark": {"type": "line", "color": "#0000FF", "strokeWidth": 5, "strokeDash": [12, 8]},
      "encoding": {}
    }
  ]
}
